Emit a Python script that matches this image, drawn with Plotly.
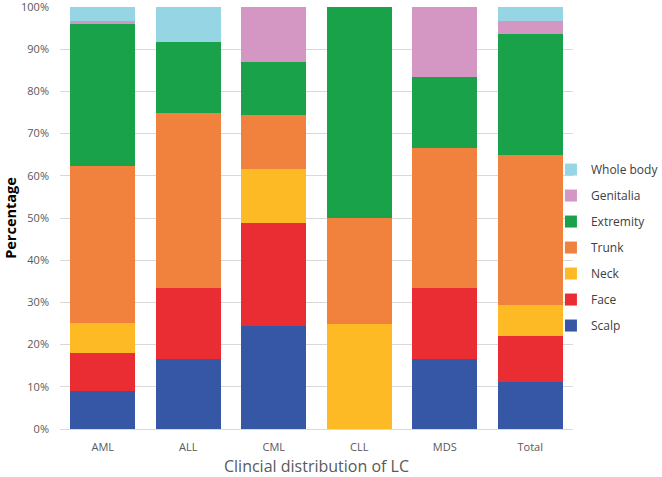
import plotly.graph_objects as go

categories = ["AML", "ALL", "CML", "CLL", "MDS", "Total"]
scalp      = [8.9, 16.7, 24.5, 0.0, 16.7, 11.1]
face       = [9.0, 16.7, 24.3, 0.0, 16.7, 11.0]
neck       = [7.3, 0.0, 12.9, 25.0, 0.0, 7.3]
trunk      = [37.1, 41.6, 12.6, 25.0, 33.3, 35.6]
extremity  = [33.6, 16.7, 12.7, 50.0, 16.6, 28.7]
genitalia  = [0.9, 0.0, 13.0, 0.0, 16.7, 3.1]
whole_body = [3.2, 8.3, 0.0, 0.0, 0.0, 3.2]

series = [
    ("Scalp", scalp, "#3656A6"),
    ("Face", face, "#EA2D33"),
    ("Neck", neck, "#FDBA25"),
    ("Trunk", trunk, "#F0823E"),
    ("Extremity", extremity, "#1AA24A"),
    ("Genitalia", genitalia, "#D496C3"),
    ("Whole body", whole_body, "#95D5E4"),
]

fig = go.Figure()
for i, (name, vals, col) in enumerate(series):
    fig.add_trace(go.Bar(x=categories, y=vals, name=name, marker_color=col,
                         marker_line_width=0, legendgroup=name,
                         legendrank=1000 - i))

font_fam = "Open Sans, Noto Sans, sans-serif"
fig.update_layout(
    barmode="stack",
    bargap=0.24,
    width=662, height=477,
    margin=dict(l=60, r=89, t=7, b=48, autoexpand=False),
    plot_bgcolor="white", paper_bgcolor="white",
    font=dict(family=font_fam, color="#595959", size=11),
    legend=dict(x=0.957, y=0.43, xanchor="left", yanchor="middle",
                bgcolor="rgba(0,0,0,0)", traceorder="grouped",
                font=dict(size=12, color="#404040"), tracegroupgap=7,
                itemwidth=30),
    xaxis=dict(title=dict(text="Clincial distribution of LC",
                          font=dict(size=16, color="#595959", family=font_fam),
                          standoff=7),
               tickfont=dict(size=11, color="#595959"), showgrid=False,
               showline=False, ticks="", ticklabelstandoff=10,
               automargin=False),
    yaxis=dict(title=dict(text="<b>Percentage</b>",
                          font=dict(size=14.5, color="#000000", family=font_fam),
                          standoff=0),
               range=[0, 100], dtick=10, ticksuffix="%",
               gridcolor="#D9D9D9", gridwidth=1, zeroline=True,
               zerolinecolor="#D9D9D9", zerolinewidth=1,
               tickfont=dict(size=11, color="#595959"), showline=False,
               ticklabelstandoff=10, ticklabeloverflow="allow",
               automargin=False),
)

fig.write_html("out.html", config={"displayModeBar": False},
               post_script="document.body.style.margin='0';")
